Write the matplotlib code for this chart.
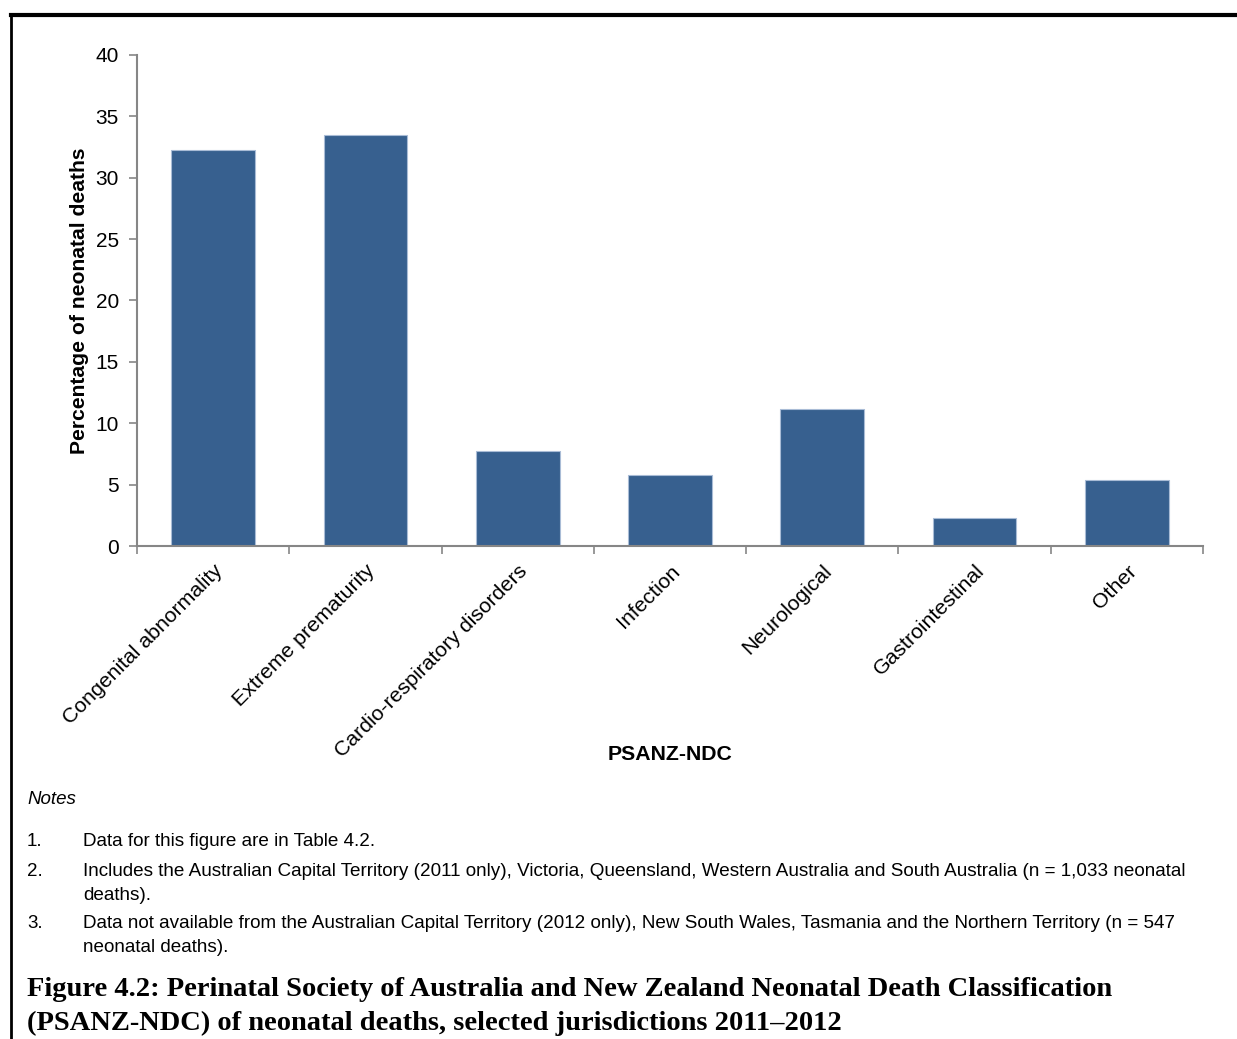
import matplotlib.pyplot as plt
from matplotlib.lines import Line2D

plt.rcParams['font.family'] = ['Liberation Sans', 'DejaVu Sans']

categories = ['Congenital abnormality', 'Extreme prematurity', 'Cardio-respiratory disorders',
              'Infection', 'Neurological', 'Gastrointestinal', 'Other']
values = [32.3, 33.5, 7.7, 5.8, 11.2, 2.3, 5.4]
y_ticks = [0, 5, 10, 15, 20, 25, 30, 35, 40]

note_nums = ['1.', '2.', '3.']
note_lines = [
    ['Data for this figure are in Table 4.2.'],
    ['Includes the Australian Capital Territory (2011 only), Victoria, Queensland, Western Australia and South Australia (n = 1,033 neonatal',
     'deaths).'],
    ['Data not available from the Australian Capital Territory (2012 only), New South Wales, Tasmania and the Northern Territory (n = 547',
     'neonatal deaths).'],
]
caption_lines = ['Figure 4.2: Perinatal Society of Australia and New Zealand Neonatal Death Classification',
                 '(PSANZ-NDC) of neonatal deaths, selected jurisdictions 2011\u20132012']

W, H = 1237, 1039
fig = plt.figure(figsize=(W / 100, H / 100), dpi=100)
ax = fig.add_axes([137 / W, 1 - 546 / H, (1203 - 137) / W, (546 - 55) / H])

x = range(len(categories))
ax.bar(x, values, width=0.55, color='#37608F', edgecolor='#A9BCD6', linewidth=0.8, zorder=2)

ax.set_xlim(-0.5, len(categories) - 0.5)
ax.set_ylim(0, 40)
ax.set_yticks(y_ticks)
ax.tick_params(axis='y', labelsize=15, length=6, color='#868686', width=1.2, pad=7)

ax.set_xticks([i - 0.5 for i in range(len(categories) + 1)])
ax.set_xticklabels([])
ax.tick_params(axis='x', length=6, color='#868686', width=1.2)
ax.set_xticks(list(x), minor=True)
ax.set_xticklabels(categories, minor=True, rotation=45, ha='right', va='top',
                   rotation_mode='anchor', fontsize=15.3)
ax.tick_params(axis='x', which='minor', length=0, pad=11)

for s in ['top', 'right']:
    ax.spines[s].set_visible(False)
for s in ['left', 'bottom']:
    ax.spines[s].set_color('#868686')
    ax.spines[s].set_linewidth(1.5)

ax.set_ylabel('Percentage of neonatal deaths', fontsize=15.2, fontweight='bold', labelpad=5)
fig.text(670 / W, 1 - 755 / H, 'PSANZ-NDC', fontsize=15.3, fontweight='bold', ha='center', va='center')

# notes block
fig.text(27 / W, 1 - 800 / H, 'Notes', fontsize=13.5, style='italic', va='center')
note_y = [841, 871, 923]
for num, lines, yy in zip(note_nums, note_lines, note_y):
    fig.text(27 / W, 1 - yy / H, num, fontsize=13.5, va='center')
    for k, line in enumerate(lines):
        fig.text(83 / W, 1 - (yy + 24 * k) / H, line, fontsize=13.55, va='center')

for k, line in enumerate(caption_lines):
    fig.text(27 / W, 1 - (990 + 33 * k) / H, line, fontsize=20.5, fontweight='bold',
             family=['Liberation Serif'], va='center')

# frame lines (top and left)
fig.add_artist(Line2D([11 / W, 1], [1 - 15 / H, 1 - 15 / H], color='black', linewidth=3, transform=fig.transFigure))
fig.add_artist(Line2D([11 / W, 11 / W], [1 - 15 / H, 0], color='black', linewidth=2, transform=fig.transFigure))

fig.savefig('out.png', dpi=100)
